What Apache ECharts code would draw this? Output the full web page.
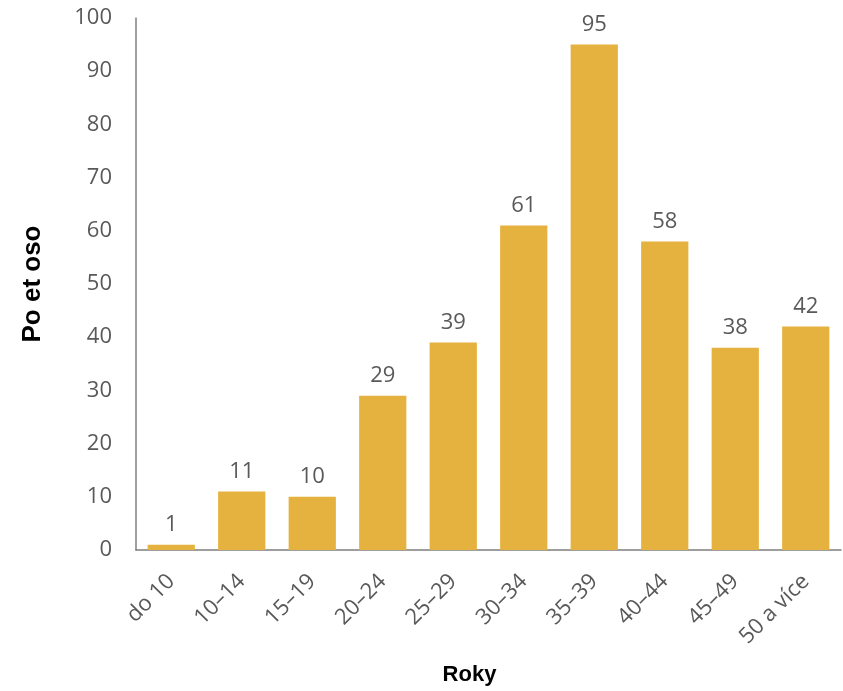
<!DOCTYPE html>
<html><head><meta charset="utf-8">
<script src="https://cdn.jsdelivr.net/npm/echarts@6/dist/echarts.min.js"></script>
<style>html,body{margin:0;padding:0;background:#fff}#c{width:843px;height:691px}</style>
</head><body><div id="c"></div>
<script>
const categories = ["do 10","10–14","15–19","20–24","25–29","30–34","35–39","40–44","45–49","50 a více"];
const values = [1,11,10,29,39,61,95,58,38,42];
const yTicks = [0,10,20,30,40,50,60,70,80,90,100];
const yName = "Po et oso";
const xName = "Roky";

const chart = echarts.init(document.getElementById('c'), null, {renderer:'canvas'});
const font = "'Open Sans', 'Liberation Sans', sans-serif";
chart.setOption({
  animation:false,
  grid:{left:136,right:2,top:18,bottom:140,containLabel:false},
  xAxis:{type:'category',data:categories,
    name:xName,nameLocation:'middle',nameGap:114,
    nameTextStyle:{fontFamily:'Liberation Sans, Arial, sans-serif',fontWeight:'bold',fontSize:22,color:'#000',padding:[0,38,0,0]},
    axisLine:{lineStyle:{color:'#7f7f7f',width:1.5}},axisTick:{show:false},
    axisLabel:{rotate:45,fontFamily:font,fontSize:22,color:'#595959',margin:28,interval:0}},
  yAxis:{type:'value',min:yTicks[0],max:yTicks[yTicks.length-1],interval:10,
    name:yName,nameLocation:'middle',nameGap:90,nameRotate:90,
    nameTextStyle:{fontFamily:'Liberation Sans, Arial, sans-serif',fontWeight:'bold',fontSize:26,color:'#000'},
    axisLine:{show:true,lineStyle:{color:'#7f7f7f',width:1.5}},axisTick:{show:false},
    splitLine:{show:false},
    axisLabel:{fontFamily:font,fontSize:22,color:'#595959',margin:24}},
  series:[{type:'bar',data:values,barCategoryGap:'33%',
    itemStyle:{color:'#E6B23F'},
    label:{show:true,position:'top',distance:9,fontFamily:font,fontSize:22,color:'#595959'}}]
});
</script></body></html>
